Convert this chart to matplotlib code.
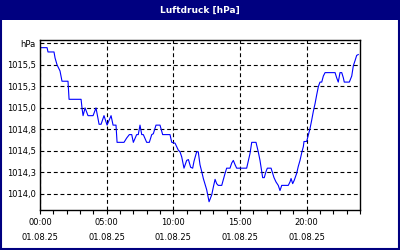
import matplotlib
matplotlib.use("Agg")
import matplotlib.pyplot as plt
from matplotlib.patches import Rectangle
from matplotlib.ticker import FixedLocator, MultipleLocator

# hours since 01.08.25 00:00 and pressure in hPa
hours = [0.0, 0.53, 0.6, 1.05, 1.13, 1.28, 1.5, 1.65, 2.1, 2.18, 3.08, 3.15, 3.23, 3.38,
         3.6, 3.98, 4.2, 4.43, 4.58, 4.8, 5.03, 5.33, 5.48, 5.7, 5.78, 6.3, 6.5, 6.7, 6.88,
         7.0, 7.25, 7.37, 7.5, 7.63, 7.75, 8.0, 8.2, 8.38, 8.5, 8.7, 9.0, 9.2, 9.75, 9.88,
         10.13, 10.37, 10.5, 10.63, 10.8, 11.0, 11.13, 11.3, 11.45, 11.55, 11.75, 11.87,
         12.0, 12.13, 12.25, 12.5, 12.68, 12.88, 13.0, 13.13, 13.25, 13.37, 13.63, 13.88,
         14.0, 14.25, 14.38, 14.5, 14.63, 14.75, 15.5, 15.75, 15.88, 16.2, 16.37, 16.5,
         16.63, 16.7, 16.82, 16.95, 17.05, 17.33, 17.45, 17.55, 17.7, 17.87, 18.0, 18.13,
         18.62, 18.75, 18.83, 18.95, 19.07, 19.25, 19.37, 19.5, 19.63, 19.75, 19.8, 20.0,
         20.13, 20.25, 20.38, 20.5, 20.63, 20.75, 20.88, 21.0, 21.13, 21.25, 21.38, 22.13,
         22.25, 22.37, 22.5, 22.63, 22.75, 22.82, 23.2, 23.38, 23.5, 23.63, 23.75, 23.87]
pressure = [1015.70, 1015.70, 1015.65, 1015.65, 1015.58, 1015.50, 1015.43, 1015.31, 1015.31,
            1015.10, 1015.10, 1015.00, 1014.91, 1015.00, 1014.91, 1014.91, 1015.00, 1014.81,
            1014.81, 1014.91, 1014.80, 1014.91, 1014.80, 1014.80, 1014.60, 1014.60, 1014.65,
            1014.69, 1014.69, 1014.60, 1014.69, 1014.69, 1014.80, 1014.69, 1014.69, 1014.60,
            1014.60, 1014.69, 1014.70, 1014.80, 1014.80, 1014.69, 1014.69, 1014.60, 1014.59,
            1014.51, 1014.49, 1014.43, 1014.30, 1014.39, 1014.40, 1014.31, 1014.30, 1014.38,
            1014.49, 1014.49, 1014.34, 1014.26, 1014.18, 1014.05, 1013.91, 1013.99, 1014.08,
            1014.17, 1014.12, 1014.10, 1014.10, 1014.24, 1014.30, 1014.30, 1014.36, 1014.39,
            1014.34, 1014.30, 1014.30, 1014.47, 1014.60, 1014.60, 1014.49, 1014.39, 1014.26,
            1014.19, 1014.19, 1014.26, 1014.30, 1014.30, 1014.24, 1014.19, 1014.14, 1014.10,
            1014.04, 1014.10, 1014.10, 1014.14, 1014.18, 1014.12, 1014.16, 1014.24, 1014.32,
            1014.39, 1014.48, 1014.55, 1014.61, 1014.61, 1014.69, 1014.76, 1014.86, 1014.96,
            1015.05, 1015.15, 1015.25, 1015.30, 1015.30, 1015.37, 1015.41, 1015.41, 1015.35,
            1015.30, 1015.41, 1015.41, 1015.35, 1015.30, 1015.30, 1015.37, 1015.49, 1015.55,
            1015.61, 1015.62]

y_ticks = [1014.0, 1014.25, 1014.5, 1014.75, 1015.0, 1015.25, 1015.5, 1015.75]
y_labels = ["1014,0", "1014,3", "1014,5", "1014,8", "1015,0", "1015,3", "1015,5", "hPa"]
x_ticks = [0, 5, 10, 15, 20]
x_labels = ["00:00\n01.08.25", "05:00\n01.08.25", "10:00\n01.08.25",
            "15:00\n01.08.25", "20:00\n01.08.25"]

navy = "#000080"
plt.rcParams["font.family"] = "DejaVu Sans"

fig = plt.figure(figsize=(4, 2.5), dpi=100)
fig.patch.set_facecolor("white")
fig.patches.append(Rectangle((0, 0.92), 1, 0.08, transform=fig.transFigure,
                             facecolor=navy, edgecolor="none", zorder=0))
fig.patches.append(Rectangle((0.002, 0.003), 0.995, 0.995, transform=fig.transFigure,
                             facecolor="none", edgecolor=navy, linewidth=1.5, zorder=5))
fig.text(0.5, 0.958, "Luftdruck [hPa]", color="white", fontsize=6.5, fontweight="bold",
         ha="center", va="center")

ax = fig.add_axes([0.1, 0.16, 0.8, 0.68])
ax.plot(hours, pressure, color="#0000ff", linewidth=0.8)

ax.set_xlim(0, 24)
ax.set_ylim(1013.814, 1015.789)
ax.xaxis.set_major_locator(FixedLocator(x_ticks))
ax.set_xticklabels(x_labels, fontsize=6, linespacing=1.8)
ax.xaxis.set_minor_locator(MultipleLocator(1))
ax.set_yticks(y_ticks)
ax.set_yticklabels(y_labels, fontsize=6)

ax.tick_params(axis="x", which="both", direction="out", length=3, width=0.8, pad=3)
ax.tick_params(axis="y", length=0, pad=3)
ax.grid(True, which="major", color="black", linestyle=(0, (3.5, 2.5)), linewidth=0.8)
for s in ax.spines.values():
    s.set_linewidth(1.0)
    s.set_color("black")

fig.savefig("out.png", dpi=100)
